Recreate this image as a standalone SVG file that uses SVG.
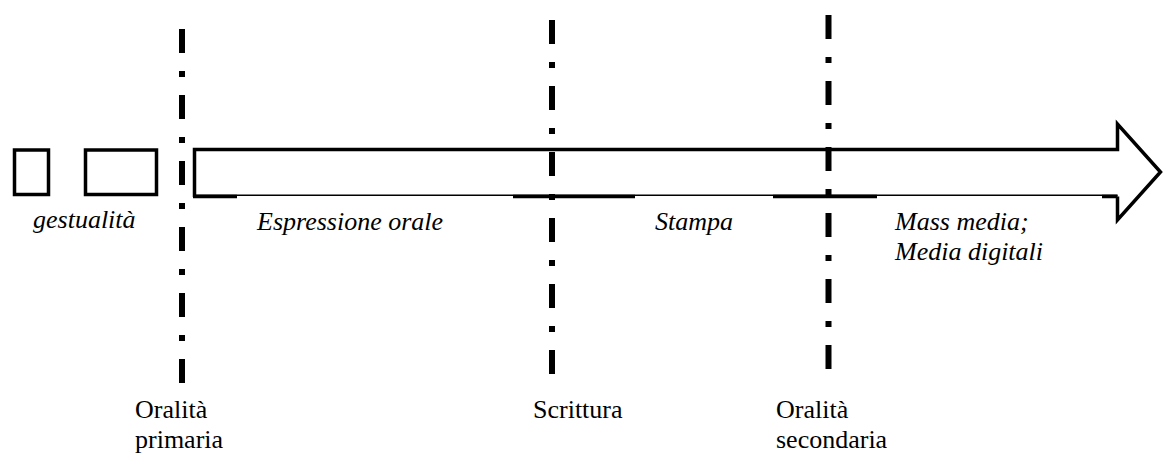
<svg xmlns="http://www.w3.org/2000/svg" width="1163" height="454" viewBox="0 0 1163 454">
<style>
.box{fill:none;stroke:#000;stroke-width:3.5}
.thick{stroke:#000;stroke-width:3.5;fill:none}
.thin{stroke:#000;stroke-width:1.6;fill:none}
.dd{stroke:#000;stroke-width:6;stroke-dasharray:24 18 6 18;fill:none}
text{font-family:'Liberation Serif','Times New Roman',serif;font-size:26px;fill:#000}
.it{font-style:italic}
</style>
<rect width="1163" height="454" fill="#fff"/>
<g id="box-1"><rect class="box" x="14.5" y="150" width="34" height="44.5"/></g>
<g id="box-2"><rect class="box" x="85.5" y="150" width="71" height="44.5"/></g>
<g id="arrow">
<path d="M194.5,195.5 H1117.5 V220 L1160.5,172 L1117.5,124 V149.5 H194.5 Z" fill="#fff" stroke="none"/>
<path class="thick" d="M194.5,197 V149.5 H1117.5 V124 L1160.5,172 L1117.5,220 V196.5"/>
<path class="thin" d="M194.5,195.3 H1117.5"/>
<path class="thick" d="M193,196.5 H237 M513,196.5 H635 M773,196.5 H877 M1102,196.5 H1117.5"/>
</g>
<g id="connectors">
<path class="dd" d="M182,29 V383"/>
<path class="dd" d="M552,20 V374"/>
<path class="dd" d="M828.5,15 V370"/>
</g>
<g id="labels">
<text class="it" x="33" y="228">gestualità</text>
<text class="it" x="257" y="230">Espressione orale</text>
<text class="it" x="655" y="230">Stampa</text>
<text class="it" x="895" y="230">Mass media;</text>
<text class="it" x="895" y="260">Media digitali</text>
<text x="135" y="418">Oralità</text>
<text x="135" y="448">primaria</text>
<text x="533" y="418">Scrittura</text>
<text x="776" y="418">Oralità</text>
<text x="776" y="448">secondaria</text>
</g>
</svg>
